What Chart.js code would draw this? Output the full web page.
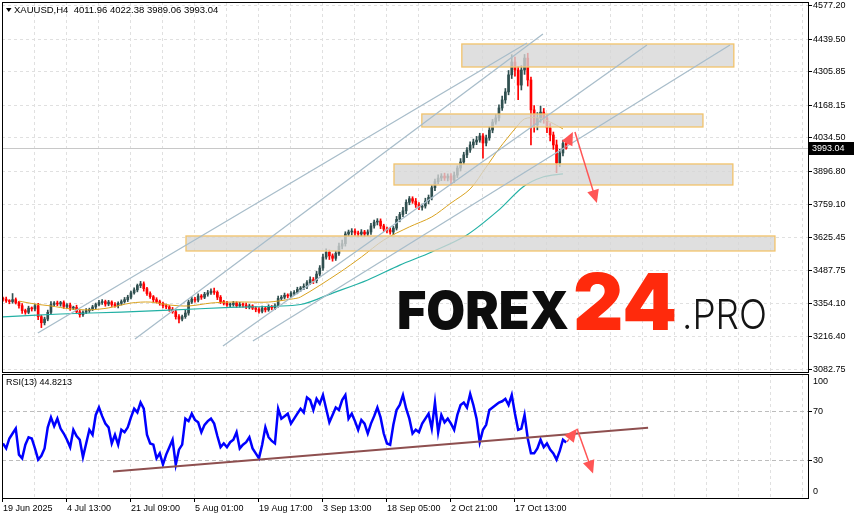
<!DOCTYPE html>
<html>
<head>
<meta charset="utf-8">
<script src="https://cdn.jsdelivr.net/npm/chart.js@4.4.1/dist/chart.umd.min.js"></script>
<style>
  html, body { margin: 0; padding: 0; background: #fff; width: 854px; height: 520px; overflow: hidden; }
  canvas { position: absolute; left: 0; }
  #main { top: 0; }
  #rsi { top: 372px; }
</style>
</head>
<body>
<canvas id="main" width="854" height="373"></canvas>
<canvas id="rsi" width="854" height="148"></canvas>
<script>
// ---- data (one entry per candle, H4) ----
const firstOpen = 3375;
const closes = [
  3372,3365,3362,3370,3358,3345,3325,3318,3335,3332,
  3345,3300,3275,3290,3318,3350,3356,3352,3358,3342,
  3348,3335,3338,3320,3308,3318,3325,3330,3340,3350,
  3358,3362,3352,3360,3350,3345,3355,3362,3370,3380,
  3398,3410,3428,3435,3415,3395,3382,3370,3362,3355,
  3345,3340,3330,3320,3300,3290,3300,3315,3360,3372,
  3368,3385,3380,3392,3398,3405,3400,3380,3362,3355,
  3348,3350,3356,3345,3350,3348,3340,3344,3335,3330,
  3322,3335,3328,3340,3336,3345,3375,3380,3388,3385,
  3395,3400,3412,3418,3425,3440,3452,3448,3475,3500,
  3545,3565,3550,3540,3560,3590,3600,3640,3648,3652,
  3644,3640,3648,3640,3648,3673,3689,3693,3673,3660,
  3656,3648,3664,3700,3720,3735,3770,3785,3775,3760,
  3750,3755,3775,3790,3830,3855,3870,3878,3870,3878,
  3862,3882,3911,3936,3965,3985,4006,4018,4026,4043,
  4014,4035,4067,4100,4117,4158,4191,4224,4294,4347,
  4314,4252,4314,4363,4273,4150,4088,4117,4141,4117,
  4076,4047,4006,3932,3973,4011.96,3993.04
];
const wickUp = [
  6,8,5,25,7,5,9,6,8,5, 7,10,6,8,9,12,6,8,5,7, 6,8,5,9,7,6,8,5,7,6,
  9,8,6,7,5,8,6,7,9,8, 7,9,6,10,8,6,7,5,8,6, 5,7,6,8,6,9,7,12,8,10,
  7,9,6,8,10,9,12,6,7,5, 8,6,7,5,9,6,8,7,5,6, 7,8,5,9,6,8,10,7,9,6,
  8,7,9,6,10,8,12,9,11,10, 12,14,9,8,10,12,15,9,8,10, 9,8,10,7,9,11,8,10,9,7,
  8,10,7,12,9,14,10,9,8,11, 9,8,12,10,9,11,13,10,12,9, 10,12,9,14,11,10,13,12,15,11,
  10,12,14,11,15,13,16,14,18,30, 20,15,18,15,20,12,18,22,25,15, 14,18,12,20,15,14,10.42
];
const wickDn = [
  8,6,9,7,6,10,12,8,6,9, 8,12,20,9,7,6,8,7,9,8, 7,9,6,8,10,7,6,8,5,7,
  6,8,9,7,8,6,9,7,6,8, 7,6,8,9,10,8,7,9,6,8, 9,7,8,6,10,16,8,7,9,6,
  8,7,9,6,8,7,9,10,8,7, 6,9,7,8,6,9,7,8,6,10, 8,7,9,6,8,7,6,9,7,8,
  7,9,6,8,7,10,8,12,9,8, 10,9,15,12,9,8,11,10,9,12, 10,12,9,11,8,10,9,12,11,10,
  12,9,11,8,10,9,12,10,9,11, 10,12,9,11,10,12,9,11,10,12, 20,11,10,12,9,11,10,12,11,9,
  62,12,10,11,9,12,10,14,12,15, 25,60,20,18,25,144,30,20,18,22, 20,25,18,40,15,12,3.98
];
const rsiValues = [
  44,40,48,52,56,35,32,43,49,48, 40,31,34,40,57,65,58,64,56,52,
  47,41,55,50,47,33,44,55,51,67, 73,66,60,57,44,51,43,55,53,57,
  65,72,69,77,72,51,44,43,32,36, 27,35,41,47,27,39,43,64,62,68,
  63,61,53,59,62,64,60,50,41,44, 41,45,47,53,40,43,45,49,40,36,
  32,43,57,49,46,44,72,64,66,68, 60,64,68,72,69,81,79,71,80,76,
  83,72,61,67,73,71,79,83,64,68, 62,55,63,60,52,60,66,73,65,52,
  44,43,59,71,75,83,72,64,52,55, 53,60,64,68,56,77,53,67,61,64,
  60,55,67,75,77,73,84,75,64,45, 55,59,71,73,75,77,78,80,75,83,
  68,55,56,67,48,36,36,40,47,41, 44,39,36,31,38,47,44.8213
];
// moving averages: [bar, price]
const maFast = [
  [5,3364],[10,3352],[15,3344],[21,3332],[27,3328],[33,3336],[40,3356],[46,3360],[52,3348],
  [58,3344],[65,3356],[71,3360],[77,3360],[83,3360],[90,3372],[93,3381],[105,3480],[112,3545],
  [119,3615],[127,3669],[134,3710],[140,3767],[146,3825],[151,3915],[155,3990],[160.5,4080],
  [163,4113],[167,4118],[171,4100],[175,4072]
];
const maSlow = [
  [0,3299],[18,3311],[37,3319],[52,3327],[71,3338],[93,3350],[103,3397],[114,3451],[124,3512],
  [134,3566],[145,3636],[155,3739],[162.5,3833],[168.75,3874],[175,3887]
];
const priceTicks = [4577.20,4439.50,4305.85,4168.15,4034.50,3896.80,3759.10,3625.45,3487.75,3354.10,3216.40,3082.75];
const dateLabels = ['19 Jun 2025','4 Jul 13:00','21 Jul 09:00','5 Aug 01:00','19 Aug 17:00','3 Sep 13:00','18 Sep 05:00','2 Oct 21:00','17 Oct 13:00'];
const dateBars = [0,20,40,60,80,100,120,140,160];
const lastPrice = 3993.04;
// zones: [bar from, bar to, price top, price bottom]
const zones = [
  [143.4,228.4,4421.0,4326.4],
  [130.9,218.75,4133.2,4079.8],
  [122.2,228.1,3927.7,3841.3],
  [57.2,241.25,3631.7,3570.0]
];
// trend lines: [bar1, price1, bar2, price2]
const trendLines = [
  [10.9,3232.9,163.75,4425.1],
  [41.25,3208.2,168.75,4462.1],
  [68.75,3179.5,201.25,4416.9],
  [78.1,3200.0,227.2,4416.9]
];
const priceArrows = [[175.6,3993.4,178.1,4059.2,true],[178.75,4059.2,185.6,3767.3,false]];
const rsiLine = [34.4,21.4,201.6,56.6];
const rsiArrows = [[176.25,45.4,179.4,55.8,true],[179.4,55.8,184.4,19.8,false]];

// ---- helpers ----
const xMin = -0.3, xMax = 251.575;
const gridBars = [];
for (let b = 10; b <= 250; b += 10) gridBars.push(b);
const fam = '"Liberation Sans", Arial, sans-serif';
const small = '9px ' + fam;

const opens = closes.map((c, i) => i === 0 ? firstOpen : closes[i - 1]);
const highs = closes.map((c, i) => Math.max(opens[i], c) + wickUp[i]);
const lows = closes.map((c, i) => Math.min(opens[i], c) - wickDn[i]);
const colors = closes.map((c, i) => c >= opens[i] ? '#2f4f4f' : '#ff0000');

function arrow(ctx, x1, y1, x2, y2, dashed, color) {
  ctx.save();
  ctx.strokeStyle = color; ctx.fillStyle = color; ctx.lineWidth = 1.5;
  if (dashed) ctx.setLineDash([3, 2]);
  const a = Math.atan2(y2 - y1, x2 - x1);
  ctx.beginPath(); ctx.moveTo(x1, y1);
  ctx.lineTo(x2 - Math.cos(a) * 8, y2 - Math.sin(a) * 8); ctx.stroke();
  ctx.setLineDash([]);
  ctx.beginPath();
  ctx.moveTo(x2, y2);
  ctx.lineTo(x2 - Math.cos(a) * 13 + Math.sin(a) * 6, y2 - Math.sin(a) * 13 - Math.cos(a) * 6);
  ctx.lineTo(x2 - Math.cos(a) * 13 - Math.sin(a) * 6, y2 - Math.sin(a) * 13 + Math.cos(a) * 6);
  ctx.closePath(); ctx.fill();
  ctx.restore();
}

function fitText(ctx, text, x, base, w, font, color) {
  ctx.save();
  ctx.font = font;
  const m = ctx.measureText(text).width;
  ctx.translate(x, base); ctx.scale(w / m, 1);
  ctx.fillStyle = color; ctx.textBaseline = 'alphabetic'; ctx.textAlign = 'left';
  ctx.fillText(text, 0, 0);
  ctx.restore();
}

function frame(ctx, a) {
  ctx.save();
  ctx.strokeStyle = '#000'; ctx.lineWidth = 1;
  ctx.strokeRect(Math.round(a.left) + 0.5, Math.round(a.top) + 0.5, Math.round(a.right - a.left), Math.round(a.bottom - a.top));
  ctx.restore();
}

const xGrid = {
  color: (c) => c.tick && c.tick.value > 0 ? '#e0e0e0' : 'transparent',
  lineWidth: 1
};
const dashed = { display: false, dash: [3, 3] };

// ---- main price pane ----
const mainOverlay = {
  id: 'mainOverlay',
  beforeDatasetsDraw(chart) {
    const { ctx, chartArea: a, scales: { y } } = chart;
    const py = Math.round(y.getPixelForValue(lastPrice)) + 0.5;
    ctx.save();
    ctx.strokeStyle = '#c8c8c8'; ctx.lineWidth = 1;
    ctx.beginPath(); ctx.moveTo(a.left, py); ctx.lineTo(a.right, py); ctx.stroke();
    ctx.restore();
  },
  afterDatasetsDraw(chart) {
    const { ctx, chartArea: a, scales: { x, y } } = chart;
    ctx.save();
    ctx.beginPath(); ctx.rect(a.left, a.top, a.right - a.left, a.bottom - a.top); ctx.clip();
    zones.forEach(z => {
      const x1 = x.getPixelForValue(z[0]), x2 = x.getPixelForValue(z[1]);
      const y1 = y.getPixelForValue(z[2]), y2 = y.getPixelForValue(z[3]);
      ctx.fillStyle = 'rgba(214,214,214,0.78)';
      ctx.fillRect(x1, y1, x2 - x1, y2 - y1);
      ctx.strokeStyle = '#f2c36b'; ctx.lineWidth = 1.3;
      ctx.strokeRect(x1, y1, x2 - x1, y2 - y1);
    });
    ctx.strokeStyle = '#a8bdca'; ctx.lineWidth = 1.3;
    trendLines.forEach(l => {
      ctx.beginPath();
      ctx.moveTo(x.getPixelForValue(l[0]), y.getPixelForValue(l[1]));
      ctx.lineTo(x.getPixelForValue(l[2]), y.getPixelForValue(l[3]));
      ctx.stroke();
    });
    priceArrows.forEach(r => arrow(ctx, x.getPixelForValue(r[0]), y.getPixelForValue(r[1]),
      x.getPixelForValue(r[2]), y.getPixelForValue(r[3]), r[4], '#ff5555'));
    ctx.restore();
  },
  afterDraw(chart) {
    const { ctx, chartArea: a, scales: { y } } = chart;
    frame(ctx, a);
    // watermark
    fitText(ctx, 'FOREX', 397, 329, 172, '900 52px Inter, "Open Sans", sans-serif', '#0d0d0d');
    fitText(ctx, '24', 573, 330, 104, '900 79px Inter, "Open Sans", sans-serif', '#ff2a0c');
    fitText(ctx, '.PRO', 682, 329, 85, '300 41px Inter, "Open Sans", sans-serif', '#141414');
    // header
    ctx.save();
    ctx.fillStyle = '#000';
    ctx.beginPath(); ctx.moveTo(6, 8); ctx.lineTo(11.5, 8); ctx.lineTo(8.75, 12); ctx.closePath(); ctx.fill();
    ctx.font = '9.5px ' + fam; ctx.textBaseline = 'middle';
    ctx.fillText('XAUUSD,H4  4011.96 4022.38 3989.06 3993.04', 14, 10);
    // last price tag
    ctx.font = small;
    const py = y.getPixelForValue(lastPrice);
    ctx.fillRect(809, Math.round(py) - 6, 45, 13);
    ctx.fillStyle = '#fff';
    ctx.fillText(lastPrice.toFixed(2), 812, Math.round(py) + 0.5);
    ctx.restore();
  }
};

new Chart(document.getElementById('main'), {
  type: 'bar',
  data: {
    datasets: [
      {
        data: closes.map((c, i) => ({ x: i, y: [lows[i], highs[i]] })),
        backgroundColor: colors, barThickness: 1, grouped: false, order: 3
      },
      {
        data: closes.map((c, i) => ({ x: i, y: [opens[i], c] })),
        backgroundColor: colors, barThickness: 2, minBarLength: 1, grouped: false, order: 2
      },
      {
        type: 'line', data: maSlow.map(p => ({ x: p[0], y: p[1] })),
        borderColor: '#22b0a4', borderWidth: 1.2, pointRadius: 0, tension: 0.3, order: 1
      },
      {
        type: 'line', data: maFast.map(p => ({ x: p[0], y: p[1] })),
        borderColor: '#d9a21f', borderWidth: 1, pointRadius: 0, tension: 0.3, order: 0
      }
    ]
  },
  options: {
    responsive: false,
    animation: false,
    events: [],
    layout: { autoPadding: false, padding: { left: 2, top: 2, right: 0, bottom: 1 } },
    plugins: { legend: { display: false }, tooltip: { enabled: false } },
    scales: {
      x: {
        type: 'linear', min: xMin, max: xMax, offset: false,
        afterBuildTicks: s => { s.ticks = gridBars.map(v => ({ value: v })); },
        afterFit: s => { s.height = 0; s.paddingLeft = 0; s.paddingRight = 0; },
        ticks: { display: false },
        grid: Object.assign({ drawTicks: false, offset: false }, xGrid),
        border: dashed
      },
      y: {
        position: 'right',
        min: 3072.5, max: 4593.6,
        afterBuildTicks: s => { s.ticks = priceTicks.map(v => ({ value: v })); },
        afterFit: s => { s.width = 46; s.paddingTop = 0; s.paddingBottom = 0; },
        ticks: {
          autoSkip: false, padding: 1, color: '#000',
          font: { family: fam, size: 9 },
          callback: v => v.toFixed(2)
        },
        grid: {
          color: '#e0e0e0', tickColor: '#000', tickLength: 4,
          tickBorderDash: [], tickWidth: 1
        },
        border: dashed
      }
    }
  },
  plugins: [mainOverlay]
});

// ---- RSI pane ----
const rsiOverlay = {
  id: 'rsiOverlay',
  afterDatasetsDraw(chart) {
    const { ctx, chartArea: a, scales: { x, y } } = chart;
    ctx.save();
    ctx.beginPath(); ctx.rect(a.left, a.top, a.right - a.left, a.bottom - a.top); ctx.clip();
    ctx.strokeStyle = '#8e4f4f'; ctx.lineWidth = 2;
    ctx.beginPath();
    ctx.moveTo(x.getPixelForValue(rsiLine[0]), y.getPixelForValue(rsiLine[1]));
    ctx.lineTo(x.getPixelForValue(rsiLine[2]), y.getPixelForValue(rsiLine[3]));
    ctx.stroke();
    rsiArrows.forEach(r => arrow(ctx, x.getPixelForValue(r[0]), y.getPixelForValue(r[1]),
      x.getPixelForValue(r[2]), y.getPixelForValue(r[3]), r[4], '#ff5555'));
    ctx.restore();
  },
  afterDraw(chart) {
    const { ctx, chartArea: a } = chart;
    frame(ctx, a);
    ctx.save();
    ctx.fillStyle = '#000'; ctx.font = small; ctx.textBaseline = 'middle';
    ctx.fillText('RSI(13) 44.8213', 6, a.top + 9);
    ctx.fillText('100', 813, a.top + 8);
    ctx.fillText('0', 813, a.bottom - 6);
    ctx.restore();
  }
};

new Chart(document.getElementById('rsi'), {
  type: 'line',
  data: {
    datasets: [{
      data: rsiValues.map((v, i) => ({ x: i, y: v })),
      borderColor: '#0000ff', borderWidth: 2.5, pointRadius: 0, tension: 0
    }]
  },
  options: {
    responsive: false,
    animation: false,
    events: [],
    layout: { autoPadding: false, padding: { left: 2, top: 2, right: 0, bottom: 0 } },
    plugins: { legend: { display: false }, tooltip: { enabled: false } },
    scales: {
      x: {
        type: 'linear', min: xMin, max: xMax, offset: false,
        afterBuildTicks: s => { s.ticks = [0].concat(gridBars).map(v => ({ value: v })); },
        afterFit: s => { s.height = 22; s.paddingLeft = 0; s.paddingRight = 0; },
        ticks: {
          autoSkip: false, maxRotation: 0, minRotation: 0, align: 'start', padding: 1, color: '#000',
          font: { family: fam, size: 9 },
          callback: v => { const k = dateBars.indexOf(v); return k >= 0 ? dateLabels[k] : ''; }
        },
        grid: Object.assign({
          offset: false, tickLength: 4, tickBorderDash: [],
          tickColor: c => c.tick && dateBars.indexOf(c.tick.value) >= 0 ? '#000' : 'transparent'
        }, xGrid),
        border: dashed
      },
      y: {
        position: 'right', min: 0, max: 100,
        afterBuildTicks: s => { s.ticks = [70, 30].map(v => ({ value: v })); },
        afterFit: s => { s.width = 46; s.paddingTop = 0; s.paddingBottom = 0; },
        ticks: { autoSkip: false, padding: 1, color: '#000', font: { family: fam, size: 9 } },
        grid: { color: '#bdbdbd', tickColor: '#000', tickLength: 4, tickBorderDash: [] },
        border: { display: false, dash: [4, 3] }
      }
    }
  },
  plugins: [rsiOverlay]
});
</script>
</body>
</html>
